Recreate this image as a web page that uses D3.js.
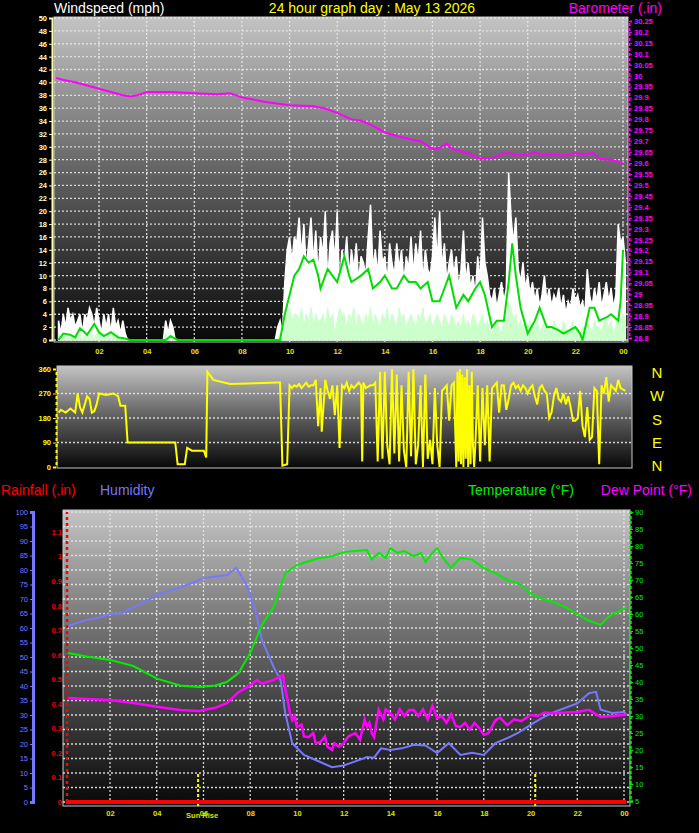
<!DOCTYPE html>
<html><head><meta charset="utf-8">
<script src="https://cdn.jsdelivr.net/npm/d3@7"></script>
<style>body{margin:0;background:#000}svg{display:block}text{font-family:"Liberation Sans",Arial,sans-serif}</style>
</head><body>
<script>
// ---------- DATA ----------
const hourTicks = [2,4,6,8,10,12,14,16,18,20,22,24];
const hourLabels = ["02","04","06","08","10","12","14","16","18","20","22","00"];
const windStart = 0.3, windStep = 0.1;
const windGust = [
3,1,4,2,5,3,4,2,3,4, 1,4,3,5,4,2,5,3,1,4, 2,4,1,5,2,3,1,3,1,0, 0,0,0,0,0,0,0,0,0,0,
0,0,0,0,0,3,1,3,2,0, 0,0,0,0,0,0,0,0,0,0, 0,0,0,0,0,0,0,0,0,0, 0,0,0,0,0,0,0,0,0,0,
0,0,0,0,0,0,0,0,0,0, 0,0,2,3,1,9,14,16,12,16, 15,19,13,18,11,15,19,12,17,10, 16,13,20,9,15,17,12,20,8,14,
12,16,10,14,11,15,9,13,12,10, 16,21,11,14,10,17,12,13,9,15, 12,10,15,11,14,9,13,11,16,10, 15,12,17,9,14,11,10,13,19,12,
20,11,15,9,12,14,10,13,8,11, 17,9,12,8,10,7,13,9,19,12, 10,7,6,8,5,7,9,6,8,26, 19,15,19,11,9,12,8,10,7,9,
6,8,5,7,10,6,8,5,7,6, 8,5,7,4,6,5,8,6,7,5, 6,4,11,7,5,8,6,9,5,7, 9,6,8,5,7,18,15,16,12];
const windSpeed = [
1,0,1,0,1,1,0,1,0,1, 0,1,1,0,1,0,1,1,0,1, 0,1,0,1,0,1,0,0,0,0, 0,0,0,0,0,0,0,0,0,0,
0,0,0,0,0,1,0,1,0,0, 0,0,0,0,0,0,0,0,0,0, 0,0,0,0,0,0,0,0,0,0, 0,0,0,0,0,0,0,0,0,0,
0,0,0,0,0,0,0,0,0,0, 0,0,0,1,0,2,4,5,3,4, 4,3,5,2,4,3,5,2,4,3, 3,4,2,5,3,4,1,3,5,4,
4,2,4,3,5,2,4,3,2,4, 3,5,2,4,3,2,4,3,5,2, 4,3,2,5,3,4,2,3,4,3, 2,4,3,5,2,3,4,2,3,4,
3,2,4,3,2,4,3,2,3,2, 4,2,3,2,4,3,2,3,4,2, 3,2,1,2,3,2,1,3,2,6, 5,3,4,2,3,2,3,2,3,2,
2,3,1,2,3,2,2,1,3,2, 2,1,3,2,1,2,3,1,2,1, 2,1,3,2,1,3,2,2,1,3, 3,2,3,1,2,4,3,4,3];
const windAvg = [[0.3,0],[0.5,1],[0.8,0.8],[1,0.4],[1.2,1.8],[1.4,1.2],[1.5,0.8],[1.8,2.5],[2,1.2],[2.2,0.6],[2.5,1.2],[2.8,0.4],[3,0.3],[3.3,0],[4.8,0],[5,0.6],[5.3,0],[9.6,0],[9.8,4],[10,7],[10.2,10],[10.4,11],[10.6,13],[10.8,12],[11,12.5],[11.2,10],[11.3,8],[11.6,11],[11.8,10],[12,9],[12.3,13],[12.5,10],[12.6,9],[13,10],[13.3,11],[13.5,8],[13.8,9],[14,10],[14.3,8],[14.5,8],[14.8,10],[15,9],[15.3,9],[15.5,8],[15.8,9],[16,6],[16.3,6],[16.5,8],[16.7,10],[17,5],[17.3,7],[17.5,6],[17.8,8],[18,9],[18.2,7],[18.5,2],[18.7,3],[19,3],[19.2,9],[19.35,15],[19.5,10],[19.7,5],[20,1],[20.3,3],[20.5,5],[20.8,2],[21,2],[21.3,1.5],[21.5,1],[22,2],[22.2,1],[22.3,0],[22.6,5],[22.8,5],[23,3],[23.3,3.5],[23.5,4],[23.8,3],[23.9,6],[24,14]];
const baro = [[0.2,29.99],[0.5,29.98],[1,29.97],[2,29.94],[3,29.91],[3.3,29.905],[3.6,29.91],[4,29.925],[5,29.925],[6,29.92],[7,29.915],[7.5,29.92],[8,29.9],[9,29.88],[10,29.865],[11,29.86],[11.5,29.85],[12,29.83],[12.6,29.8],[13,29.795],[13.5,29.77],[14,29.74],[15,29.71],[15.5,29.7],[16,29.665],[16.3,29.67],[16.6,29.69],[16.8,29.665],[17,29.66],[17.5,29.645],[18,29.62],[18.5,29.625],[19,29.645],[19.3,29.645],[19.5,29.635],[20,29.64],[20.3,29.65],[20.6,29.635],[21,29.64],[21.5,29.635],[22,29.645],[22.5,29.64],[22.7,29.65],[23,29.62],[23.5,29.615],[24,29.6]];
const windDir = [[0.3,200],[0.4,210],[0.6,200],[0.8,215],[1.0,200],[1.1,270],[1.2,220],[1.3,200],[1.5,260],[1.6,250],[1.7,200],[1.8,205],[1.9,230],[2.0,270],[2.3,265],[2.6,270],[2.8,260],[2.9,225],[3.1,225],[3.2,90],[5.2,90],[5.3,10],[5.6,10],[5.7,70],[5.9,60],[6.4,60],[6.5,35],[6.55,350],[6.8,320],[7.5,305],[9.5,310],[9.6,310],[9.7,5],[9.9,10],[10.0,300],
[10.1,290],[10.2,300],[10.3,295],[10.4,305],[10.5,290],[10.6,300],[10.7,310],[10.8,295],[10.9,300],[11.0,300],[11.1,320],[11.2,150],[11.3,290],[11.35,130],[11.5,320],[11.6,280],[11.7,250],[11.8,300],[11.9,190],[12.0,300],[12.1,70],[12.2,300],[12.3,290],[12.4,310],[12.5,280],[12.6,300],[12.7,290],[12.8,300],[12.9,310],[13.0,300],[13.05,20],[13.1,310],[13.2,290],[13.4,300],[13.5,300],[13.6,310],[13.7,20],[13.8,350],[13.9,30],[14.0,350],[14.1,80],[14.2,10],[14.3,360],[14.4,50],[14.5,340],[14.6,20],[14.7,300],[14.8,60],[14.9,0],[15.0,350],[15.1,40],[15.2,360],[15.3,10],[15.4,80],[15.5,300],[15.6,0],[15.7,340],[15.8,30],[15.9,100],[16.0,10],[16.1,290],[16.2,80],[16.3,0],[16.4,280],[16.5,290],[16.6,300],[16.7,170],[16.8,300],[16.9,310],[17.0,0],[17.05,350],[17.1,20],[17.15,360],[17.2,10],[17.25,340],[17.3,0],[17.35,330],[17.4,30],[17.45,360],[17.5,0],[17.55,300],[17.6,10],[17.65,350],[17.7,80],[17.75,0],[17.8,80],[17.9,300],[18.0,20],[18.1,290],[18.2,80],[18.3,300],[18.4,20],[18.5,290],[18.6,300],[18.7,310],[18.8,200],[18.9,300],[19.0,300],[19.1,210],[19.2,250],[19.3,300],[19.4,310],[19.5,290],[19.6,300],[19.7,280],[19.8,300],[19.9,290],[20.0,270],[20.1,290],[20.2,300],[20.3,260],[20.4,230],[20.5,290],[20.6,300],[20.7,280],[20.8,270],[20.9,180],[21.0,200],[21.1,260],[21.2,290],[21.3,250],[21.4,240],[21.5,270],[21.6,230],[21.7,260],[21.8,220],[21.9,170],[22.0,170],[22.1,180],[22.2,280],[22.3,150],[22.4,110],[22.5,220],[22.6,100],[22.7,110],[22.8,290],[22.9,280],[23.0,10],[23.1,300],[23.2,270],[23.3,330],[23.4,240],[23.5,300],[23.6,290],[23.7,280],[23.8,320],[23.9,290],[24.1,280]];
const temperature = [[0.2,48.5],[1,47.5],[2,46.5],[3,44.7],[4,41],[5,39],[5.8,38.5],[6.5,39],[7,40],[7.5,42.6],[8,48.5],[8.5,56.8],[9,62],[9.5,72],[10,74.4],[10.5,75.5],[11,76.5],[11.5,77],[12,78.2],[12.5,78.5],[13,78.8],[13.2,76],[13.5,78],[13.8,76.5],[14,79.4],[14.3,78],[14.6,78.5],[15,77],[15.3,78],[15.5,75.3],[15.8,78],[16,79.4],[16.3,76],[16.6,73.6],[17,76.5],[17.5,76],[18,73.5],[18.5,72],[19,70],[19.5,69],[20,66],[20.5,64.5],[21,63.5],[21.5,62],[22,60],[22.5,58],[23,56.8],[23.3,59],[23.5,60],[24,61.5],[24.1,62]];
const dewPoint = [[0.2,35.3],[1,35],[2,34.7],[3,33.8],[4,32.7],[5,31.8],[5.8,31.5],[6.5,32.4],[7,33.8],[7.5,37],[8,39],[8.3,40.6],[8.5,39.5],[9,40.6],[9.4,42],[9.5,38],[9.6,34.7],[9.7,31],[9.8,28.8],[9.9,30],[10.0,26.8],[10.2,27.5],[10.3,24],[10.5,23.8],[10.7,25],[10.8,22],[11.0,22.3],[11.2,24],[11.3,21],[11.5,20],[11.6,22],[11.8,21],[12.0,22],[12.2,24],[12.5,25],[12.7,23],[12.9,29],[13.0,26.8],[13.1,28],[13.2,25],[13.3,23.8],[13.5,31.8],[13.7,29],[13.8,32],[14,30.8],[14.2,29],[14.4,32],[14.6,30],[14.8,31.8],[15,31.8],[15.2,30],[15.4,32],[15.6,29],[15.8,33],[16,29.4],[16.2,30],[16.4,28],[16.6,30.5],[16.8,27],[17,26.8],[17.2,28],[17.4,26],[17.6,28],[17.8,26.5],[18,24.4],[18.2,25],[18.5,28.8],[18.7,29.5],[19,27.3],[19.3,29],[19.6,28.5],[20,30.3],[20.3,30],[20.6,31],[21,30.8],[21.5,31],[22,31.2],[22.5,31.8],[23,29.7],[23.5,30],[24,30.3],[24.1,30.5]];
const humidity = [[0.2,60.7],[0.5,61.5],[1,62.8],[1.5,63.5],[2,64.8],[2.5,65],[3,67.2],[3.5,69],[4,71.4],[5,74],[5.5,75.5],[6,77.2],[7,78.3],[7.4,80.7],[7.8,75.5],[8.2,67],[8.5,55.9],[9,46.6],[9.3,42],[9.5,30.7],[9.8,20.3],[10.3,16.2],[11,13.8],[11.5,12],[12,12.6],[12.5,14],[13,15.5],[13.3,15.3],[13.6,18.5],[14,17.9],[14.5,18.5],[15,19.7],[15.5,19.5],[16,16.9],[16.5,20.3],[17,16.2],[17.5,17],[18,16.2],[18.5,20.3],[19,22],[19.5,24],[20,26.6],[20.5,29],[21,31],[21.5,32.5],[22,34],[22.5,37.5],[22.8,38],[23,31.8],[23.5,30.7],[24,31],[24.1,30]];
const rainfall = [[0.1,0],[24.1,0]];
const sunRise = 5.77, sunSet = 20.2;

// ---------- DRAW ----------
const W = 699, H = 833;
const svg = d3.select("body").append("svg").attr("width", W).attr("height", H);
const defs = svg.append("defs");
const grad = defs.append("linearGradient").attr("id","bg").attr("x1",0).attr("y1",0).attr("x2",0).attr("y2",1);
grad.append("stop").attr("offset","0%").attr("stop-color","#c4c4c4");
grad.append("stop").attr("offset","50%").attr("stop-color","#5e5e5e");
grad.append("stop").attr("offset","100%").attr("stop-color","#080808");

function panel(id, x0, y0, x1, y1) {
  svg.append("rect").attr("x",x0).attr("y",y0).attr("width",x1-x0).attr("height",y1-y0)
     .attr("fill","url(#bg)").attr("stroke","#c8c8c8").attr("stroke-width",1);
  defs.append("clipPath").attr("id",id).append("rect").attr("x",x0).attr("y",y0).attr("width",x1-x0).attr("height",y1-y0);
  return svg.append("g").attr("clip-path",`url(#${id})`);
}
const dot = g => g.attr("stroke","#e8e8e8").attr("stroke-width",1.3).attr("stroke-dasharray","2,2").attr("opacity",0.9);

// ===== Panel 1: wind & baro =====
const x1 = d3.scaleLinear([0,24],[51.4,623]);
const yW = d3.scaleLinear([0,50],[340,18]);
const yB = d3.scaleLinear([28.8,30.25],[338,21]);
const g1 = panel("c1",54,17,628,342);
d3.range(0,51,2).forEach(v=>dot(g1.append("line").attr("x1",54).attr("x2",628).attr("y1",yW(v)).attr("y2",yW(v))));
hourTicks.forEach(h=>dot(g1.append("line").attr("x1",x1(h)).attr("x2",x1(h)).attr("y1",17).attr("y2",342)));
const wt = i => windStart + i*windStep;
g1.append("path").datum(windGust).attr("fill","#ffffff").attr("stroke","#ffffff").attr("stroke-width",1.5)
  .attr("d", d3.area().x((d,i)=>x1(wt(i))).y0(yW(0)).y1(d=>yW(d)));
g1.append("path").datum(windSpeed).attr("fill","#ccffcc").attr("stroke","#ccffcc").attr("stroke-width",1)
  .attr("d", d3.area().x((d,i)=>x1(wt(i))).y0(yW(0)).y1(d=>yW(d)));
g1.append("path").datum(windAvg).attr("fill","none").attr("stroke","#00dd00").attr("stroke-width",2)
  .attr("d", d3.line().x(d=>x1(d[0])).y(d=>yW(d[1])));
g1.append("path").datum(baro).attr("fill","none").attr("stroke","#ff00ff").attr("stroke-width",2)
  .attr("d", d3.line().x(d=>x1(d[0])).y(d=>yB(d[1])));
const aW = svg.append("g").attr("transform","translate(52,0)")
  .call(d3.axisLeft(yW).tickValues(d3.range(0,51,2)).tickSize(3).tickPadding(2));
aW.select(".domain").attr("stroke","#ffffaa").attr("stroke-width",2);
aW.selectAll("line").attr("stroke","#ffffaa");
aW.selectAll("text").attr("fill","#ffffcc").style("font-size","7.5px").style("font-weight","bold");
const aB = svg.append("g").attr("transform","translate(629,0)")
  .call(d3.axisRight(yB).tickValues(d3.range(28.8,30.26,0.05)).tickFormat(d=>+d.toFixed(2)).tickSize(3).tickPadding(2));
aB.select(".domain").attr("stroke","#ff00ff").attr("stroke-width",2).attr("stroke-dasharray","3,2");
aB.selectAll("line").attr("stroke","#ff00ff");
aB.selectAll("text").attr("fill","#ff00ff").style("font-size","7.5px").style("font-weight","bold");
const aX1 = svg.append("g").attr("transform","translate(0,342)")
  .call(d3.axisBottom(x1).tickValues(hourTicks).tickFormat((d,i)=>hourLabels[i]).tickSize(0).tickPadding(7));
aX1.select(".domain").remove();
aX1.selectAll("text").attr("fill","#e0e000").style("font-size","7.5px").style("font-weight","bold");
svg.append("text").attr("x",54).attr("y",13).attr("fill","#ffffff").style("font-size","14px").text("Windspeed (mph)");
svg.append("text").attr("x",372).attr("y",13).attr("text-anchor","middle").attr("fill","#ffff00").style("font-size","14px").text("24 hour graph day : May 13 2026");
svg.append("text").attr("x",662).attr("y",13).attr("text-anchor","end").attr("fill","#ff00ff").style("font-size","14px").text("Barometer (.in)");

// ===== Panel 2: wind direction =====
const yD = d3.scaleLinear([0,360],[467,369]);
const g2 = panel("c2",57,366,632,468);
[90,180,270].forEach(v=>dot(g2.append("line").attr("x1",57).attr("x2",632).attr("y1",yD(v)).attr("y2",yD(v))));
g2.append("path").datum(windDir).attr("fill","none").attr("stroke","#ffff00").attr("stroke-width",2)
  .attr("d", d3.line().x(d=>x1(d[0])).y(d=>yD(d[1])));
const aD = svg.append("g").attr("transform","translate(56,0)")
  .call(d3.axisLeft(yD).tickValues([0,90,180,270,360]).tickSize(3).tickPadding(2));
aD.select(".domain").attr("stroke","#ffff00").attr("stroke-width",2).attr("stroke-dasharray","3,3");
aD.selectAll("line").attr("stroke","#ffff00");
aD.selectAll("text").attr("fill","#ffff00").style("font-size","7.5px").style("font-weight","bold");
["N","W","S","E","N"].forEach((t,i)=>svg.append("text").attr("x",657).attr("y",378+i*23.3)
  .attr("text-anchor","middle").attr("fill","#ffff00").style("font-size","15px").text(t));

// ===== Panel 3: temp / hum / dew / rain =====
const x3 = d3.scaleLinear([0,24],[63.3,624]);
const yH = d3.scaleLinear([0,100],[802,512]);
const yR = d3.scaleLinear([0,1.1],[802,532]);
const yT = d3.scaleLinear([5,90],[801,512]);
const g3 = panel("c3",63,510,630,806);
d3.range(0,101,5).forEach(v=>dot(g3.append("line").attr("x1",63).attr("x2",630).attr("y1",yH(v)).attr("y2",yH(v))));
hourTicks.forEach(h=>dot(g3.append("line").attr("x1",x3(h)).attr("x2",x3(h)).attr("y1",510).attr("y2",806)));
[sunRise,sunSet].forEach(h=>g3.append("line").attr("x1",x3(h)).attr("x2",x3(h)).attr("y1",774).attr("y2",806)
  .attr("stroke","#ffff00").attr("stroke-width",2).attr("stroke-dasharray","3,2"));
const ln = (data, sc, col, w) => g3.append("path").datum(data).attr("fill","none").attr("stroke",col).attr("stroke-width",w)
  .attr("d", d3.line().x(d=>x3(d[0])).y(d=>sc(d[1])));
ln(humidity, yH, "#7777ff", 2);
ln(temperature, yT, "#00ee00", 2);
ln(dewPoint, yT, "#ff00ff", 2.5);
ln(rainfall, yR, "#ff0000", 4);
const aH = svg.append("g").attr("transform","translate(33,0)")
  .call(d3.axisLeft(yH).tickValues(d3.range(0,101,5)).tickSize(3).tickPadding(2));
aH.select(".domain").attr("stroke","#7777ff").attr("stroke-width",3);
aH.selectAll("line").attr("stroke","#7777ff");
aH.selectAll("text").attr("fill","#7777ff").style("font-size","7.5px");
const aR = svg.append("g").attr("transform","translate(67,0)")
  .call(d3.axisLeft(yR).tickValues([0,0.1,0.2,0.3,0.4,0.5,0.6,0.7,0.8,0.9,1,1.1]).tickFormat(d=>+d.toFixed(1)).tickSize(0).tickPadding(5));
aR.select(".domain").attr("stroke","#ff0000").attr("stroke-width",2.5).attr("stroke-dasharray","3,3").attr("d","M0,802V512");
aR.selectAll("text").attr("fill","#ee0000").style("font-size","7.5px").style("font-weight","bold");
const aT = svg.append("g").attr("transform","translate(630,0)")
  .call(d3.axisRight(yT).tickValues(d3.range(5,91,5)).tickSize(3).tickPadding(2));
aT.select(".domain").attr("stroke","#00ee00").attr("stroke-width",2.5).attr("stroke-dasharray","3,2");
aT.selectAll("line").attr("stroke","#00ee00");
aT.selectAll("text").attr("fill","#00ee00").style("font-size","7.5px");
const aX3 = svg.append("g").attr("transform","translate(0,806)")
  .call(d3.axisBottom(x3).tickValues(hourTicks).tickFormat((d,i)=>hourLabels[i]).tickSize(0).tickPadding(5));
aX3.select(".domain").remove();
aX3.selectAll("text").attr("fill","#e0e000").style("font-size","7.5px").style("font-weight","bold");
svg.append("text").attr("x",x3(sunRise)+4).attr("y",818).attr("text-anchor","middle").attr("fill","#e0e000")
  .style("font-size","7.5px").style("font-weight","bold").text("Sun Rise");
svg.append("text").attr("x",1).attr("y",495).attr("fill","#ff0000").style("font-size","14px").text("Rainfall (.in)");
svg.append("text").attr("x",100).attr("y",495).attr("fill","#7777ff").style("font-size","14px").text("Humidity");
svg.append("text").attr("x",468).attr("y",495).attr("fill","#00ee00").style("font-size","14px").text("Temperature (°F)");
svg.append("text").attr("x",692).attr("y",495).attr("text-anchor","end").attr("fill","#ff00ff").style("font-size","14px").text("Dew Point (°F)");
</script>
</body></html>
